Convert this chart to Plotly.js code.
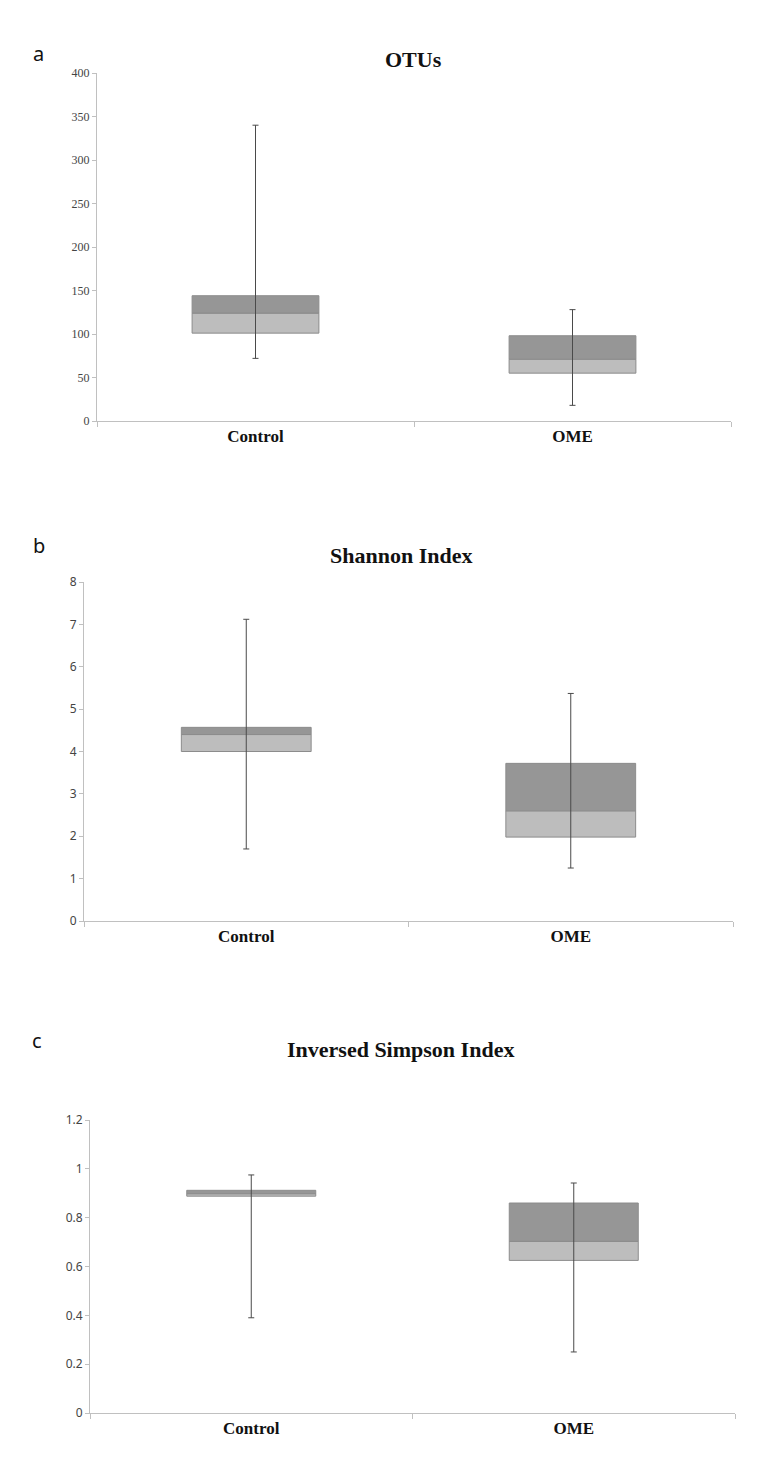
<!DOCTYPE html>
<html>
<head>
<meta charset="utf-8">
<script src="https://cdn.plot.ly/plotly-3.0.1.min.js"></script>
<style>html,body{margin:0;padding:0;background:#fff;}#chart{width:758px;height:1465px;}</style>
</head>
<body>
<div id="chart"></div>
<script>
const categories = ["Control", "OME"];

const otuMin    = [72, 18];
const otuQ1     = [101, 55];
const otuMedian = [124, 71];
const otuQ3     = [144, 98];
const otuMax    = [340, 128];

const shanMin    = [1.70, 1.25];
const shanQ1     = [4.00, 1.98];
const shanMedian = [4.40, 2.60];
const shanQ3     = [4.57, 3.72];
const shanMax    = [7.12, 5.37];

const simpMin    = [0.39, 0.25];
const simpQ1     = [0.888, 0.625];
const simpMedian = [0.898, 0.703];
const simpQ3     = [0.912, 0.860];
const simpMax    = [0.975, 0.942];

const panelTitles = ["OTUs", "Shannon Index", "Inversed Simpson Index"];
const panelLetters = ["a", "b", "c"];

const W = 758, H = 1465;
const px = v => v / W;
const py = v => 1 - v / H;

const LIGHT = "#bdbdbd", DARK = "#969696", EDGE = "#8c8c8c";

function panelTraces(mn, q1, med, q3, mx, xa, ya) {
  const lower = q1.map((v, i) => med[i] - v);
  const upper = med.map((v, i) => q3[i] - v);
  return [
    {type: "bar", x: categories, y: lower, base: q1, width: 0.4,
     marker: {color: LIGHT, line: {color: EDGE, width: 1}}, xaxis: xa, yaxis: ya, hoverinfo: "skip"},
    {type: "bar", x: categories, y: upper, base: med, width: 0.4,
     marker: {color: DARK, line: {color: EDGE, width: 1}}, xaxis: xa, yaxis: ya, hoverinfo: "skip"},
    {type: "scatter", mode: "markers", x: categories, y: med,
     marker: {size: 0.1, color: "rgba(0,0,0,0)"},
     error_y: {type: "data", symmetric: false,
               array: mx.map((v, i) => v - med[i]),
               arrayminus: med.map((v, i) => v - mn[i]),
               color: "#4a4a4a", thickness: 1, width: 3},
     xaxis: xa, yaxis: ya, hoverinfo: "skip"}
  ];
}

const data = [].concat(
  panelTraces(otuMin, otuQ1, otuMedian, otuQ3, otuMax, "x", "y"),
  panelTraces(shanMin, shanQ1, shanMedian, shanQ3, shanMax, "x2", "y2"),
  panelTraces(simpMin, simpQ1, simpMedian, simpQ3, simpMax, "x3", "y3")
);

const serif = "Liberation Serif, Times New Roman, serif";
const sans = "Noto Sans, DejaVu Sans, sans-serif";

function xAxis(dom, anchor) {
  return {domain: dom, anchor: anchor, type: "category", range: [-0.5, 1.5],
    showline: true, linecolor: "#c0c0c0", linewidth: 1, ticks: "outside", tickson: "boundaries",
    ticklen: 5, tickcolor: "#c0c0c0", showgrid: false, zeroline: false, automargin: false,
    tickfont: {family: serif, size: 17, color: "#111", weight: "bold"}, fixedrange: true};
}
function yAxis(dom, anchor, range, dtick, font) {
  return {domain: dom, anchor: anchor, range: range, dtick: dtick, tick0: 0,
    showline: true, linecolor: "#c0c0c0", linewidth: 1, ticks: "outside", ticklen: 4,
    tickcolor: "#c0c0c0", showgrid: false, zeroline: false, automargin: false,
    tickfont: font, fixedrange: true};
}

const layout = {
  width: W, height: H, margin: {l: 0, r: 0, t: 0, b: 0},
  paper_bgcolor: "#fff", plot_bgcolor: "#fff", showlegend: false, barmode: "overlay",
  xaxis:  xAxis([px(97), px(731)], "y"),
  yaxis:  yAxis([py(421), py(73)], "x", [0, 400], 50, {family: serif, size: 12, color: "#444"}),
  xaxis2: xAxis([px(84), px(733)], "y2"),
  yaxis2: yAxis([py(921), py(582)], "x2", [0, 8], 1, {family: sans, size: 12, color: "#444"}),
  xaxis3: xAxis([px(90), px(735)], "y3"),
  yaxis3: yAxis([py(1413), py(1120)], "x3", [0, 1.2], 0.2, {family: sans, size: 12, color: "#444"}),
  annotations: [
    {text: "<b>" + panelTitles[0] + "</b>", x: px(413), y: py(45), xref: "paper", yref: "paper", showarrow: false, font: {family: serif, size: 22, color: "#111"}},
    {text: "<b>" + panelTitles[1] + "</b>", x: px(401), y: py(555), xref: "paper", yref: "paper", showarrow: false, font: {family: serif, size: 22, color: "#111"}},
    {text: "<b>" + panelTitles[2] + "</b>", x: px(400), y: py(1064), xref: "paper", yref: "paper", showarrow: false, font: {family: serif, size: 22, color: "#111"}},
    {text: panelLetters[0], x: px(31), y: py(38), xref: "paper", yref: "paper", showarrow: false, font: {family: sans, size: 20, color: "#111"}},
    {text: panelLetters[1], x: px(31), y: py(546), xref: "paper", yref: "paper", showarrow: false, font: {family: sans, size: 20, color: "#111"}},
    {text: panelLetters[2], x: px(30), y: py(1056), xref: "paper", yref: "paper", showarrow: false, font: {family: sans, size: 20, color: "#111"}}
  ]
};

Plotly.newPlot("chart", data, layout, {displayModeBar: false, staticPlot: true});
</script>
</body>
</html>
